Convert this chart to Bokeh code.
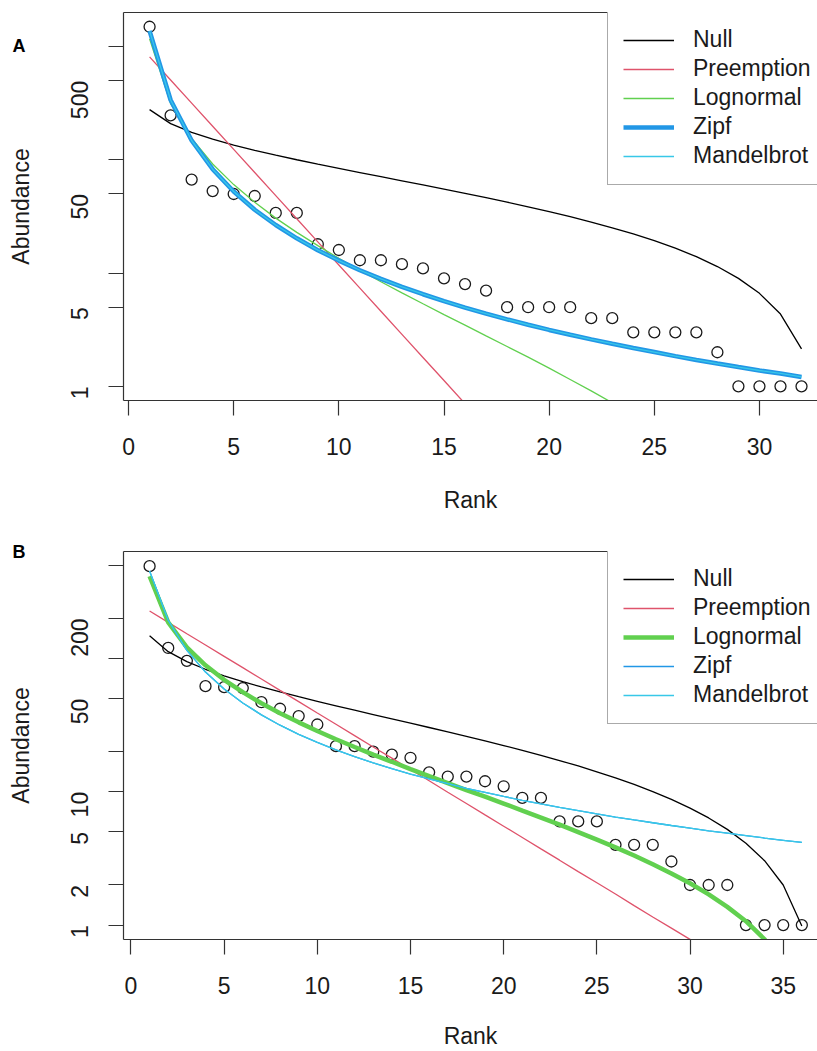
import math
from bokeh.plotting import figure
from bokeh.models import (Range1d, FixedTicker, Legend, LegendItem, LinearAxis, LogAxis,
                          CustomJSTickFormatter)
from bokeh.layouts import column
from bokeh.embed import file_html
from bokeh.resources import INLINE

FONT = "Liberation Sans"

# ---------------- Panel A data ----------------
rank_a = list(range(1, 33))
abund_a = [1500, 247, 67, 53, 50, 48, 34, 34, 18, 16, 13, 13, 12, 11, 9, 8, 7,
           5, 5, 5, 5, 4, 4, 3, 3, 3, 3, 2, 1, 1, 1, 1]
null_a = [277.8, 209.3, 175.1, 152.3, 135.2, 121.5, 110.1, 100.3, 91.75, 84.15,
          77.30, 71.08, 65.38, 60.12, 55.23, 50.66, 46.39, 42.36, 38.56, 34.96,
          31.53, 28.27, 25.16, 22.19, 19.34, 16.60, 13.97, 11.43, 8.99, 6.63, 4.35, 2.14]
preempt_a = [812.8, 507.9, 317.4, 198.4, 124.0, 77.4, 48.4, 30.2, 18.9, 11.8,
             7.38, 4.61, 2.88, 1.80, 1.125, 0.703, 0.439, 0.275, 0.1716, 0.1072,
             0.0670, 0.0419, 0.0262, 0.01634, 0.0102, 0.00638, 0.00399, 0.00249,
             0.00156, 0.000973, 0.000608, 0.00038]
lognorm_a = [1172, 314, 154.5, 92.0, 60.5, 42.2, 30.6, 22.9, 17.5, 13.5, 10.6,
             8.39, 6.69, 5.36, 4.30, 3.47, 2.79, 2.25, 1.81, 1.45, 1.15, 0.913,
             0.716, 0.555, 0.423, 0.316, 0.229, 0.160, 0.105, 0.0627, 0.0308, 0.00826]
zipf_a = [1380, 338, 148.4, 82.8, 52.6, 36.3, 26.6, 20.3, 15.95, 12.9, 10.6, 8.90,
          7.56, 6.51, 5.66, 4.96, 4.39, 3.91, 3.50, 3.15, 2.86, 2.60, 2.38, 2.18,
          2.01, 1.85, 1.71, 1.59, 1.48, 1.38, 1.30, 1.21]
mandel_a = [1380, 338, 148.4, 82.8, 52.6, 36.3, 26.6, 20.3, 15.95, 12.9, 10.6, 8.90,
            7.56, 6.51, 5.66, 4.96, 4.39, 3.91, 3.50, 3.15, 2.86, 2.60, 2.38, 2.18,
            2.01, 1.85, 1.71, 1.59, 1.48, 1.38, 1.30, 1.21]
xticks_a = [0, 5, 10, 15, 20, 25, 30]
yticks_a = [1, 5, 10, 50, 100, 500, 1000]
ylabels_a = [1, 5, 50, 500]

# ---------------- Panel B data ----------------
rank_b = list(range(1, 37))
abund_b = [493, 120, 96, 62, 61, 60, 47, 42, 37, 32, 22, 22, 20, 19, 18, 14, 13, 13,
           12, 11, 9, 9, 6, 6, 6, 4, 4, 4, 3, 2, 2, 2, 1, 1, 1, 1]
null_b = [148.1, 112.6, 94.87, 83.04, 74.18, 67.08, 61.17, 56.10, 51.67, 47.73,
          44.18, 40.96, 38.00, 35.27, 32.74, 30.37, 28.16, 26.07, 24.10, 22.23,
          20.46, 18.77, 17.16, 15.62, 14.14, 12.72, 11.36, 10.04, 8.775, 7.552,
          6.369, 5.225, 4.117, 3.042, 1.999, 0.985]
preempt_b = [227.0, 186.7, 153.5, 126.3, 103.8, 85.4, 70.2, 57.7, 47.5, 39.0, 32.1,
             26.4, 21.7, 17.9, 14.7, 12.1, 9.93, 8.17, 6.71, 5.52, 4.54, 3.73, 3.07,
             2.52, 2.08, 1.71, 1.40, 1.15, 0.949, 0.781, 0.642, 0.528, 0.434, 0.357,
             0.294, 0.241]
lognorm_b = [414, 186.5, 121.4, 88.9, 69.2, 55.9, 46.2, 38.9, 33.2, 28.6, 24.8, 21.7,
             19.0, 16.8, 14.8, 13.1, 11.6, 10.3, 9.19, 8.16, 7.23, 6.41, 5.67, 4.99,
             4.38, 3.83, 3.33, 2.86, 2.44, 2.06, 1.70, 1.37, 1.07, 0.783, 0.510, 0.230]
zipf_b = [453, 193.6, 115.2, 79.1, 59.0, 46.4, 37.8, 31.6, 27.0, 23.5, 20.6, 18.4,
          16.5, 14.9, 13.6, 12.5, 11.5, 10.6, 9.89, 9.23, 8.64, 8.12, 7.64, 7.22,
          6.83, 6.47, 6.15, 5.86, 5.59, 5.34, 5.10, 4.89, 4.69, 4.50, 4.33, 4.17]
mandel_b = [453, 193.6, 115.2, 79.1, 59.0, 46.4, 37.8, 31.6, 27.0, 23.5, 20.6, 18.4,
            16.5, 14.9, 13.6, 12.5, 11.5, 10.6, 9.89, 9.23, 8.64, 8.12, 7.64, 7.22,
            6.83, 6.47, 6.15, 5.86, 5.59, 5.34, 5.10, 4.89, 4.69, 4.50, 4.33, 4.17]
xticks_b = [0, 5, 10, 15, 20, 25, 30, 35]
yticks_b = [1, 2, 5, 10, 20, 50, 100, 200, 500]
ylabels_b = [1, 2, 5, 10, 50, 200]

model_names = ["Null", "Preemption", "Lognormal", "Zipf", "Mandelbrot"]
model_colors = ["#000000", "#DF536B", "#61D04F", "#2297E6", "#38C8E8"]

AXIS_COL = "#333333"
TEXT_COL = "#1a1a1a"


def make_panel(letter, letter_at, ranks, abund, models, thick_idx, xr, yr, xticks,
               yticks, ylabels, height, top_b, bottom_b, xlab_standoff):
    p = figure(width=817, height=height, x_range=Range1d(*xr), y_range=Range1d(*yr),
               y_axis_type="log", output_backend="svg", toolbar_location=None,
               min_border_left=123, min_border_right=0, min_border_top=top_b,
               min_border_bottom=bottom_b)
    p.xgrid.visible = False
    p.ygrid.visible = False
    p.outline_line_color = None
    p.background_fill_color = "white"
    p.border_fill_color = "white"

    p.xaxis.ticker = FixedTicker(ticks=xticks)
    p.yaxis.ticker = FixedTicker(ticks=yticks)
    p.yaxis.formatter = CustomJSTickFormatter(
        args=dict(show=ylabels),
        code="return show.includes(Math.round(tick)) ? String(Math.round(tick)) : '';")
    p.yaxis.major_label_orientation = math.pi / 2

    for ax in (p.xaxis[0], p.yaxis[0]):
        ax.axis_line_color = AXIS_COL
        ax.axis_line_width = 1.2
        ax.major_tick_line_color = AXIS_COL
        ax.major_tick_line_width = 1.2
        ax.major_tick_out = 15
        ax.major_tick_in = 0
        ax.minor_tick_line_color = None
        ax.major_label_text_font = FONT
        ax.major_label_text_font_size = "23px"
        ax.major_label_text_color = TEXT_COL
        ax.axis_label_text_font = FONT
        ax.axis_label_text_font_size = "23px"
        ax.axis_label_text_font_style = "normal"
        ax.axis_label_text_color = TEXT_COL
    p.xaxis.axis_label = "Rank"
    p.yaxis.axis_label = "Abundance"
    p.xaxis.major_label_standoff = 22
    p.xaxis.axis_label_standoff = xlab_standoff
    p.yaxis.major_label_standoff = 29
    p.yaxis.axis_label_standoff = 26

    # panel letter, drawn as the single label of an extra left axis
    letter_ax = LogAxis(ticker=FixedTicker(ticks=[letter_at]),
                        formatter=CustomJSTickFormatter(args=dict(t=letter),
                                                        code="return t;"),
                        axis_line_color=None, major_tick_line_color=None,
                        minor_tick_line_color=None, major_tick_out=0, major_tick_in=0,
                        major_label_standoff=-21, major_label_orientation="horizontal",
                        major_label_text_font=FONT, major_label_text_font_size="18px",
                        major_label_text_font_style="bold",
                        major_label_text_color="black")
    p.add_layout(letter_ax, "left")

    top_ax = LinearAxis(ticker=FixedTicker(ticks=[]), major_tick_out=0, major_tick_in=0,
                        major_label_text_font_size="0px", axis_line_color=AXIS_COL,
                        axis_line_width=1.2, minor_tick_line_color=None,
                        major_label_standoff=0)
    p.add_layout(top_ax, "above")

    p.scatter(ranks, abund, marker="circle", size=11, fill_color=None,
              line_color=TEXT_COL, line_width=1.3)

    items = []
    for i, (name, col, vals) in enumerate(zip(model_names, model_colors, models)):
        r = p.line(ranks, vals, line_color=col, line_width=4.5 if i == thick_idx else 1.3)
        items.append(LegendItem(label=name, renderers=[r]))

    leg = Legend(items=items, location=(484, 215), label_text_font=FONT,
                 label_text_font_size="23px", label_text_color=TEXT_COL,
                 glyph_width=51, glyph_height=20, label_height=20, label_standoff=19,
                 padding=15, spacing=2, margin=0, border_line_color="#555555",
                 border_line_width=1.2, background_fill_color="white",
                 background_fill_alpha=1.0)
    p.add_layout(leg)
    return p


pa = make_panel("A", 1023, rank_a, abund_a, [null_a, preempt_a, lognorm_a, zipf_a, mandel_a],
                3, (-0.24, 32.76), (0.750, 2004), xticks_a, yticks_a, ylabels_a,
                540, 12, 140, 29)
pb = make_panel("B", 634, rank_b, abund_b, [null_b, preempt_b, lognorm_b, zipf_b, mandel_b],
                2, (-0.4, 36.84), (0.780, 635), xticks_b, yticks_b, ylabels_b,
                511, 11, 112, 26)

layout = column(pa, pb, spacing=0)
open("out.html", "w").write(file_html(layout, INLINE))
